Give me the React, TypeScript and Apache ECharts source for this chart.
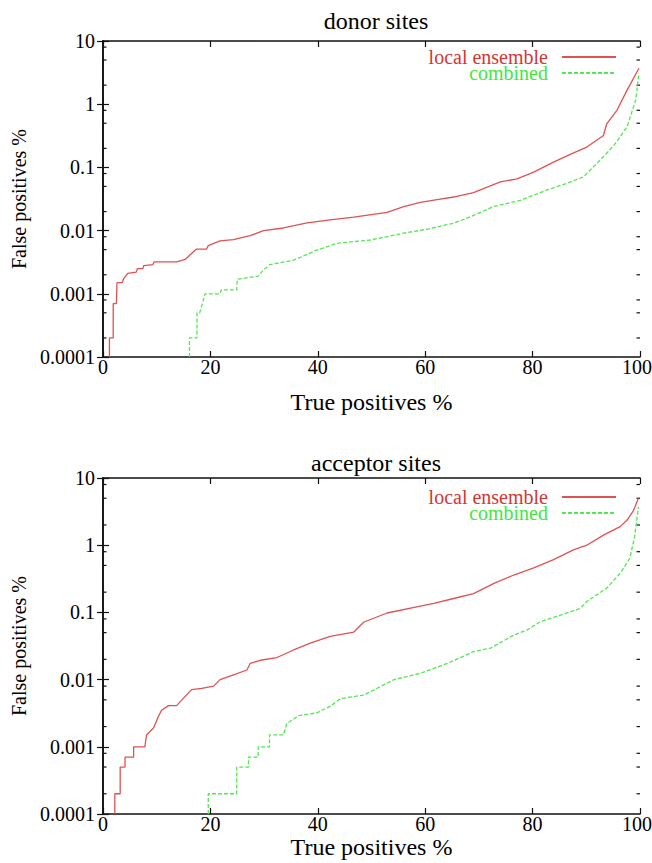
import React, { useEffect, useRef } from 'react';
import * as echarts from 'echarts';

const FONT = 'Liberation Serif, Times New Roman, serif';
const RED = '#e05252';
const RED_TEXT = '#d43535';
const GREEN = '#52e852';
const GREEN_TEXT = '#3ee83e';

const titles = ['donor sites', 'acceptor sites'];
const seriesNames = ['local ensemble', 'combined'];
const xAxisTitle = 'True positives %';
const yAxisTitle = 'False positives %';
const yTickLabels = ['0.0001', '0.001', '0.01', '0.1', '1', '10'];
const minorTickValues = [
  0.0002, 0.0005, 0.0008,
  0.002, 0.005, 0.008,
  0.02, 0.05, 0.08,
  0.2, 0.5, 0.8,
  2, 5, 8,
];

// donor sites
const donorLocalX = [1.2, 1.2, 1.9, 1.9, 2.5, 2.6, 3.6, 3.8, 4.6, 6.2, 6.4, 7.4, 7.6, 9.3, 9.5, 13.7, 15.3, 17.4, 19.3, 19.6, 21.8, 24.3, 27.4, 29.9, 33.6, 38.0, 42.3, 46.7, 52.9, 56.0, 59.1, 62.2, 65.3, 69.0, 74.0, 77.1, 80.2, 83.9, 87.0, 90.1, 93.2, 93.8, 95.7, 97.6, 99.8];
const donorLocalY = [0.0001, 0.0002, 0.0002, 0.0007, 0.0007, 0.0015, 0.0015, 0.0017, 0.0021, 0.0022, 0.0025, 0.0025, 0.0028, 0.0029, 0.0032, 0.0032, 0.0035, 0.0051, 0.0051, 0.0058, 0.0069, 0.0072, 0.0083, 0.0100, 0.011, 0.0132, 0.0148, 0.0163, 0.0195, 0.024, 0.028, 0.031, 0.034, 0.040, 0.059, 0.066, 0.084, 0.121, 0.161, 0.21, 0.32, 0.49, 0.80, 1.67, 3.7];
const donorCombX = [16.1, 16.1, 17.5, 17.5, 18.0, 18.5, 19.0, 21.8, 22.0, 24.9, 25.0, 28.9, 29.9, 31.1, 35.5, 39.8, 43.6, 49.8, 56.0, 60.3, 65.3, 68.4, 72.7, 77.7, 82.7, 86.4, 89.5, 92.6, 95.1, 97.6, 99.2, 99.8];
const donorCombY = [0.0001, 0.0002, 0.0002, 0.0005, 0.0005, 0.0007, 0.001, 0.001, 0.00115, 0.00115, 0.0017, 0.0019, 0.0024, 0.0029, 0.0034, 0.0049, 0.0063, 0.0071, 0.0091, 0.0105, 0.0131, 0.0165, 0.024, 0.030, 0.044, 0.056, 0.071, 0.131, 0.22, 0.44, 1.16, 3.1];

// acceptor sites
const accLocalX = [2.2, 2.2, 3.2, 3.2, 4.1, 4.1, 5.7, 5.7, 7.8, 8.1, 9.4, 10.3, 10.9, 12.2, 13.7, 14.7, 16.5, 18.4, 20.6, 21.8, 24.3, 26.8, 27.4, 29.3, 32.4, 35.5, 38.6, 42.3, 46.7, 48.6, 52.9, 59.1, 61.6, 65.3, 69.0, 72.8, 76.5, 80.2, 83.9, 87.6, 90.1, 93.2, 96.3, 97.6, 98.8, 99.7];
const accLocalY = [0.0001, 0.0002, 0.0002, 0.0005, 0.0005, 0.0007, 0.0007, 0.001, 0.001, 0.0015, 0.0019, 0.0028, 0.0035, 0.0041, 0.0041, 0.005, 0.0071, 0.0074, 0.008, 0.01, 0.0118, 0.0139, 0.0174, 0.0194, 0.0213, 0.0276, 0.035, 0.044, 0.051, 0.072, 0.098, 0.124, 0.136, 0.161, 0.19, 0.27, 0.36, 0.46, 0.61, 0.85, 1.0, 1.41, 1.89, 2.37, 3.3, 5.0];
const accCombX = [19.6, 19.6, 24.9, 24.9, 27.1, 27.1, 28.9, 28.9, 31.0, 31.0, 33.6, 34.2, 36.4, 39.8, 42.3, 44.2, 48.6, 54.2, 59.1, 64.1, 69.0, 72.2, 76.5, 79.0, 81.5, 85.2, 88.9, 90.1, 93.8, 96.3, 98.1, 99.0, 99.7];
const accCombY = [0.0001, 0.0002, 0.0002, 0.0005, 0.0005, 0.0007, 0.0007, 0.001, 0.001, 0.0015, 0.0015, 0.0022, 0.0029, 0.0032, 0.0040, 0.0052, 0.0059, 0.01, 0.0124, 0.0174, 0.026, 0.0295, 0.046, 0.055, 0.073, 0.091, 0.115, 0.145, 0.23, 0.38, 0.64, 1.34, 3.7];

const zip = (xs: number[], ys: number[]) => xs.map((x, i) => [x, ys[i]]);

const panels = [
  { local: zip(donorLocalX, donorLocalY), comb: zip(donorCombX, donorCombY) },
  { local: zip(accLocalX, accLocalY), comb: zip(accCombX, accCombY) },
];

const grids = [
  { left: 103, top: 41, width: 537, height: 316 },
  { left: 103, top: 478, width: 537, height: 336 },
];

function buildOption(): any {
  const xAxis: any[] = [];
  const yAxis: any[] = [];
  const series: any[] = [];
  const axisLine = { show: true, lineStyle: { color: '#111', width: 1.6 } };
  const nameGapsX = [33, 12];
  const nameGapsY = [73, 70];

  grids.forEach((_, g) => {
    xAxis.push({
      type: 'value', gridIndex: g, position: 'bottom', min: 0, max: 100, interval: 20,
      axisLine, axisTick: { inside: true, length: 6, lineStyle: { color: '#111', width: 1.2 } },
      axisLabel: {
        fontSize: 20, fontFamily: FONT, color: '#000', margin: 0,
        formatter: (v: number) => (v === 100 ? '{last|100}' : String(v)),
        rich: { last: { fontSize: 20, fontFamily: FONT, color: '#000', padding: [0, 6, 0, 0] } },
      },
      splitLine: { show: false },
      name: xAxisTitle, nameLocation: 'middle', nameGap: nameGapsX[g],
      nameTextStyle: { fontSize: 24, fontFamily: FONT, color: '#000' },
    });
    xAxis.push({
      type: 'value', gridIndex: g, position: 'top', min: 0, max: 100, interval: 20,
      axisLine, axisTick: { inside: true, length: 6, lineStyle: { color: '#111', width: 1.2 } },
      axisLabel: { show: false }, splitLine: { show: false },
    });
    yAxis.push({
      type: 'log', logBase: 10, gridIndex: g, position: 'left', min: 0.0001, max: 10,
      axisLine, axisTick: { inside: true, length: 6, lineStyle: { color: '#111', width: 1.2 } },
      axisLabel: {
        fontSize: 20, fontFamily: FONT, color: '#000', margin: 8,
        formatter: (v: number) => yTickLabels[Math.round(Math.log10(v)) + 4],
      },
      splitLine: { show: false }, minorTick: { show: false },
      name: yAxisTitle, nameLocation: 'middle', nameGap: nameGapsY[g],
      nameTextStyle: { fontSize: 20, fontFamily: FONT, color: '#000' },
    });
    yAxis.push({
      type: 'log', logBase: 10, gridIndex: g, position: 'right', min: 0.0001, max: 10,
      axisLine, axisTick: { inside: true, length: 6, lineStyle: { color: '#111', width: 1.2 } },
      axisLabel: { show: false }, splitLine: { show: false },
    });

    series.push({
      name: seriesNames[0], type: 'line', xAxisIndex: g * 2, yAxisIndex: g * 2,
      data: panels[g].local, showSymbol: false, symbol: 'none',
      lineStyle: { color: RED, width: 1.3 }, itemStyle: { color: RED },
    });
    series.push({
      name: seriesNames[1], type: 'line', xAxisIndex: g * 2, yAxisIndex: g * 2,
      data: panels[g].comb, showSymbol: false, symbol: 'none',
      lineStyle: { color: GREEN, width: 1.3, type: [4, 2] }, itemStyle: { color: GREEN },
    });
    series.push({
      type: 'custom', xAxisIndex: g * 2, yAxisIndex: g * 2, silent: true, clip: false,
      data: minorTickValues.map((v) => [0, v]),
      encode: { x: 0, y: 1 },
      renderItem: (params: any, api: any) => {
        const y = api.coord([0, api.value(1)])[1];
        const cs = params.coordSys;
        const style = { stroke: '#111', lineWidth: 1.2 };
        return {
          type: 'group',
          children: [
            { type: 'line', shape: { x1: cs.x, y1: y, x2: cs.x + 3.5, y2: y }, style },
            { type: 'line', shape: { x1: cs.x + cs.width - 3.5, y1: y, x2: cs.x + cs.width, y2: y }, style },
          ],
        };
      },
    });
  });

  const legendTops = [42, 482];
  const legend = legendTops.map((top) => ({
    orient: 'vertical', right: 30, top, align: 'right',
    itemWidth: 54, itemHeight: 14, itemGap: -4, selectedMode: false,
    itemStyle: { opacity: 0 },
    textStyle: { fontSize: 20, fontFamily: FONT, lineHeight: 16, padding: [0, 9, 0, 0] },
    data: [
      { name: seriesNames[0], textStyle: { color: RED_TEXT } },
      { name: seriesNames[1], textStyle: { color: GREEN_TEXT } },
    ],
  }));

  const titleTops = [4, 446];
  const title = titles.map((t, i) => ({
    text: t, left: 371, top: titleTops[i], textAlign: 'center',
    textStyle: { fontSize: 24, fontWeight: 'normal', fontFamily: FONT, color: '#000' },
  }));

  return {
    animation: false,
    backgroundColor: '#fff',
    title,
    legend,
    grid: grids.map((g) => ({ ...g, containLabel: false, outerBoundsMode: 'none' })),
    xAxis,
    yAxis,
    series,
  };
}

export default function App() {
  const ref = useRef<HTMLDivElement>(null);
  useEffect(() => {
    document.body.style.margin = '0';
    if (!ref.current) return;
    const chart = echarts.init(ref.current, undefined, { renderer: 'svg' });
    chart.setOption(buildOption());
    return () => chart.dispose();
  }, []);
  return <div ref={ref} style={{ width: 652, height: 863, background: '#fff' }} />;
}
